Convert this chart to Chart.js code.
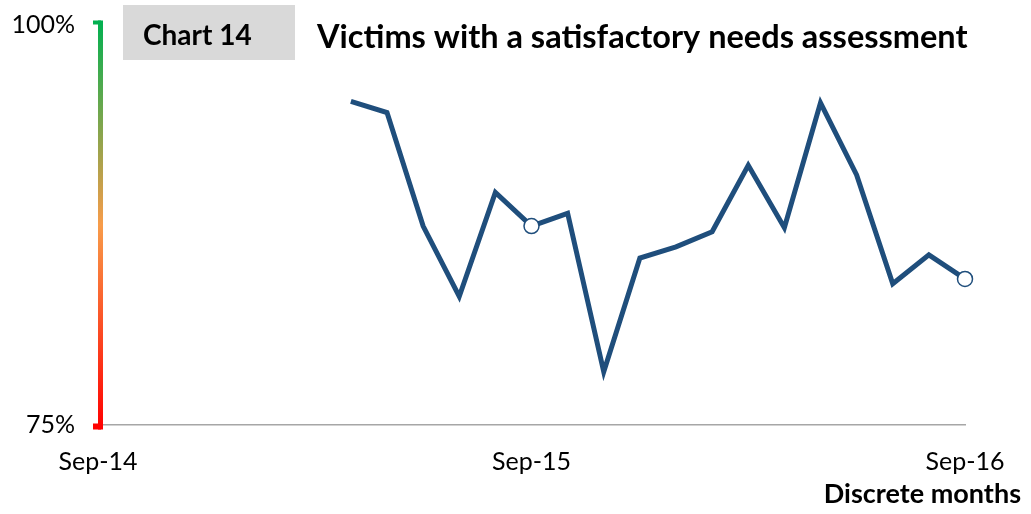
<!doctype html>
<html lang="en">
<head>
  <meta charset="UTF-8">
  <title>Victims with a satisfactory needs assessment</title>
  <script src="https://cdn.jsdelivr.net/npm/chart.js@4.4.1/dist/chart.umd.min.js"></script>
  <style>
    html, body { margin: 0; padding: 0; background: #fff; }
    #wrap { position: relative; width: 1031px; height: 514px; }
  </style>
</head>
<body>
  <div id="wrap"><canvas id="canvas"></canvas></div>
  <script>
    // Monthly series, Sep-14 .. Sep-16 (no data before Apr-15)
    const months = ['Sep-14','Oct-14','Nov-14','Dec-14','Jan-15','Feb-15','Mar-15','Apr-15','May-15','Jun-15',
      'Jul-15','Aug-15','Sep-15','Oct-15','Nov-15','Dec-15','Jan-16','Feb-16','Mar-16','Apr-16','May-16',
      'Jun-16','Jul-16','Aug-16','Sep-16'];
    const satisfactory = [null, null, null, null, null, null, null,
      95.2, 94.5, 87.4, 83.0, 89.5, 87.4, 88.2, 78.3, 85.4, 86.1, 87.05,
      91.2, 87.3, 95.1, 90.6, 83.8, 85.6, 84.1];
    const shownTicks = ['Sep-14', 'Sep-15', 'Sep-16'];
    const markedMonths = ['Sep-15', 'Sep-16'];
    const yTicks = [75, 100];

    const FONT = 'Lato, "Open Sans", sans-serif';
    const lineBlue = '#1f4e7c';

    // header box, title, axis caption and the traffic-light y axis bar
    const decorations = {
      id: 'decorations',
      afterDraw(chart) {
        const ctx = chart.ctx;
        const y = chart.scales.y;
        const top = y.getPixelForValue(100) - 4;
        const bottom = y.getPixelForValue(75) + 5;
        const left = chart.chartArea.left;

        ctx.save();
        const grad = ctx.createLinearGradient(0, top, 0, bottom);
        grad.addColorStop(0, '#00b050');
        grad.addColorStop(0.5, '#f89c4a');
        grad.addColorStop(1, '#ff0000');
        ctx.fillStyle = grad;
        ctx.fillRect(left, top, 5, bottom - top);
        ctx.fillRect(left - 5, top, 8, 4);
        ctx.fillRect(left - 5, bottom - 6, 8, 6);

        ctx.fillStyle = '#d9d9d9';
        ctx.fillRect(123, 5, 172, 55);
        ctx.fillStyle = '#000';
        ctx.textBaseline = 'middle';
        ctx.textAlign = 'left';
        ctx.font = 'bold 28px ' + FONT;
        ctx.fillText('Chart 14', 143, 36);
        ctx.font = 'bold 32.5px ' + FONT;
        ctx.fillText('Victims with a satisfactory needs assessment', 317, 38);

        ctx.textAlign = 'right';
        ctx.font = 'bold 27px ' + FONT;
        ctx.fillText('Discrete months', 1021, 494);
        ctx.restore();
      }
    };

    new Chart(document.getElementById('canvas'), {
      type: 'line',
      data: {
        labels: months,
        datasets: [{
          data: satisfactory,
          borderColor: lineBlue,
          borderWidth: 5,
          tension: 0,
          spanGaps: false,
          pointRadius: ctx => markedMonths.includes(months[ctx.dataIndex]) ? 7.5 : 0,
          pointBackgroundColor: '#fff',
          pointBorderColor: lineBlue,
          pointBorderWidth: 1.5
        }]
      },
      options: {
        responsive: true,
        maintainAspectRatio: false,
        animation: false,
        layout: { padding: { top: 24.5, right: 66, left: 0, bottom: 0 } },
        plugins: { legend: { display: false }, tooltip: { enabled: false } },
        scales: {
          x: {
            type: 'category',
            offset: false,
            grid: { display: false, drawTicks: false },
            border: { display: true, color: '#a6a6a6', width: 1.5 },
            ticks: {
              autoSkip: false,
              maxRotation: 0,
              padding: 22,
              color: '#000',
              font: { family: FONT, size: 25 },
              callback: function (v) {
                const lbl = this.getLabelForValue(v);
                return shownTicks.includes(lbl) ? lbl : '';
              }
            },
            afterFit: s => { s.height = 89.5; s.paddingLeft = 0; s.paddingRight = 0; }
          },
          y: {
            min: 75,
            max: 100,
            grid: { display: false, drawTicks: false },
            border: { display: false },
            afterBuildTicks: s => { s.ticks = yTicks.map(v => ({ value: v })); },
            ticks: {
              padding: 23,
              color: '#000',
              font: { family: FONT, size: 25 },
              callback: v => v + '%'
            },
            afterFit: s => { s.width = 98; s.paddingTop = 0; s.paddingBottom = 0; }
          }
        }
      },
      plugins: [decorations]
    });
  </script>
</body>
</html>
